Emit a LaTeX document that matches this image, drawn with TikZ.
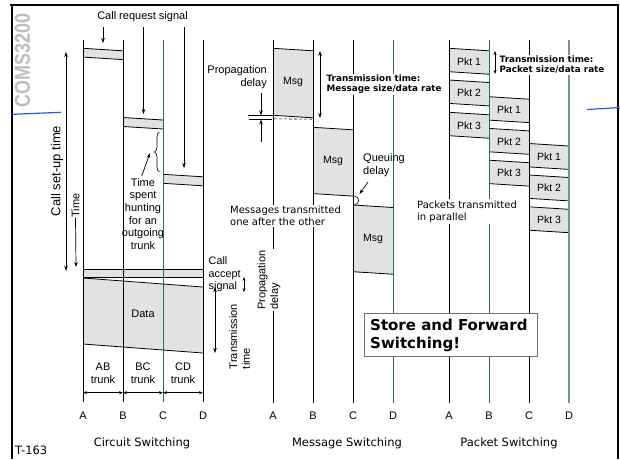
\documentclass[tikz,border=0pt]{standalone}
\usepackage{graphicx}
\usepackage{fontspec}
\setmainfont{Liberation Sans}
\newfontfamily\verd{DejaVu Sans}
\usetikzlibrary{arrows.meta,decorations.pathreplacing}
\definecolor{boxfill}{RGB}{226,226,226}
\definecolor{tealline}{RGB}{45,105,105}
\definecolor{tealthick}{RGB}{110,150,150}
\definecolor{logogray}{RGB}{190,190,190}
\definecolor{blueline}{RGB}{30,95,230}
\newcommand\slbox[3]{%
  \fill[boxfill] (#1,#2) -- ++(40,2.5) -- ++(0,#3) -- ++(-40,-2.5) -- cycle;
  \draw[tl] (#1,#2) -- ++(40,2.5);
  \draw[tl] (#1,#2+#3) -- ++(40,2.5);}
\begin{document}
\begin{tikzpicture}[x=1pt,y=-1pt,
  tl/.style={line width=0.8pt},
  arr/.style={line width=0.7pt,-{Stealth[length=5pt,width=3.5pt]}},
  darr/.style={line width=0.7pt,{Stealth[length=5pt,width=3.5pt]}-{Stealth[length=5pt,width=3.5pt]}},
  sarr/.style={line width=0.6pt,{Stealth[length=4pt,width=3pt]}-{Stealth[length=4pt,width=3pt]}},
  lab/.style={inner sep=0pt,font=\fontsize{11}{12.7}\selectfont},
  boxlab/.style={inner sep=0pt,font=\fontsize{10.5}{12}\selectfont},
  vlab/.style={inner sep=0pt,font=\verd\fontsize{10}{12}\selectfont},
  blab/.style={inner sep=0pt,font=\verd\fontsize{11.5}{13}\selectfont},
  tbold/.style={inner sep=1pt,fill=white,align=left,anchor=west,font=\verd\bfseries\fontsize{8.8}{10.5}\selectfont},
]
\useasboundingbox (0,0) rectangle (620,459);

% frame
\draw[line width=1.8pt] (10,5) -- (619,5);
\draw[line width=2.2pt] (12,4) -- (12,459);
\draw[line width=1.8pt] (618,4) -- (618,459);
\node[rotate=90,text=logogray,inner sep=0pt] (logo) at (22.5,60) {\resizebox{94pt}{15pt}{\bfseries COMS3200}};
\coordinate (bl1) at (13,114.3); \coordinate (bl2) at (61,112.3);
\draw[blueline,line width=1.2pt] (bl1) -- (bl2);
\coordinate (br1) at (587,109.5); \coordinate (br2) at (620,107.5);
\draw[blueline,line width=1.2pt] (br1) -- (br2);

% ---------------- circuit switching ----------------
\slbox{83}{48.3}{8.8}
\slbox{123}{117.5}{9}
\slbox{163}{174.3}{9}
\fill[boxfill] (83,269.3) rectangle (203,277.5);
\fill[boxfill] (83,278) -- (203,287) -- (203,353) -- (83,344) -- cycle;
\draw[tl] (83,269.3) -- (203,269.3);
\draw[tl] (83,277.5) -- (203,277.5);
\draw[tl] (83,278) -- (203,287);
\draw[tl] (83,344) -- (203,353);

\foreach \n/\x/\c in {cA/83/black,cB/123/black,cC/163/tealline,cD/203/black}{
  \coordinate (\n t) at (\x,40); \coordinate (\n b) at (\x,402);
  \draw[tl,draw=\c] (\n t) -- (\n b);
}
\node[lab] (crs) at (142.5,17) {Call request signal};
\coordinate (cr1a) at (103,27); \coordinate (cr1b) at (103,43);
\coordinate (cr2a) at (143.5,27); \coordinate (cr2b) at (143.5,114);
\coordinate (cr3a) at (184,27); \coordinate (cr3b) at (184,168);
\draw[arr] (cr1a) -- (cr1b);
\draw[arr] (cr2a) -- (cr2b);
\draw[arr] (cr3a) -- (cr3b);

\node[lab,rotate=90,font=\fontsize{13}{15}\selectfont] (cst) at (57,171) {Call set-up time};
\coordinate (cstT) at (66,52); \coordinate (cstB) at (66,271);
\draw[darr] (cstB) -- (cstT);
\node[lab,rotate=90,font=\fontsize{11}{12}\selectfont] (time) at (75.5,205.5) {Time};
\coordinate (timeB) at (76,267);
\draw[arr] (time.west) -- (timeB);

\coordinate (brA) at (159.5,172); \coordinate (brB) at (159.5,132);
\draw[line width=0.6pt,decorate,decoration={brace,amplitude=5pt}] (brA) -- (brB);
\node[lab,align=center] (tsh) at (143,214) {Time\\spent\\hunting\\for an\\outgoing\\trunk};
\coordinate (tsa) at (141.7,176); \coordinate (tsb) at (150,153);
\draw[arr] (tsa) -- (tsb);

\node[lab,align=left,anchor=west,font=\fontsize{10.8}{12.5}\selectfont] (cas) at (208.5,274.3) {Call\\accept\\signal};
\coordinate (ca1) at (244,277); \coordinate (ca2) at (244,292);
\draw[sarr] (ca1) -- (ca2);
\coordinate (ct1) at (215,287); \coordinate (ct2) at (215,353);
\draw[darr] (ct1) -- (ct2);
\node[lab,rotate=90,align=left] (tt) at (239.5,336.5) {Transmission\\time};
\node[lab] (data) at (143,313.3) {Data};

\node[lab,align=center] (ab) at (103,373) {AB\\trunk};
\node[lab,align=center] (bc) at (143,373) {BC\\trunk};
\node[lab,align=center] (cd) at (183,373) {CD\\trunk};
\coordinate (tA) at (83,392.7); \coordinate (tB) at (123,392.7);
\coordinate (tC) at (163,392.7); \coordinate (tD) at (203,392.7);
\draw[sarr] (tA) -- (tB);
\draw[sarr] (tB) -- (tC);
\draw[sarr] (tC) -- (tD);
\foreach \n/\x/\t in {lcA/83/A,lcB/123/B,lcC/163/C,lcD/203/D}{
  \node[lab] (\n) at (\x,416) {\t};
}
\node[blab] (circ) at (142,443) {Circuit Switching};
\node[blab,anchor=west] (tno) at (15,450.5) {T-163};

% ---------------- message switching ----------------
\slbox{273}{48.3}{67}
\slbox{313}{127.3}{66.3}
\slbox{353}{205}{66.7}
\foreach \n/\x/\c in {mA/273/black,mB/313/black,mC/353/black,mD/393/tealline}{
  \coordinate (\n t) at (\x,40); \coordinate (\n b) at (\x,403);
  \draw[tl,draw=\c] (\n t) -- (\n b);
}
\node[boxlab] (msg1) at (293,82) {Msg};
\node[boxlab] (msg2) at (333,161) {Msg};
\node[boxlab] (msg3) at (373,239) {Msg};

\node[lab,align=right,anchor=east] (pd) at (267,77) {Propagation\\delay};
\coordinate (pl1a) at (248,115.7); \coordinate (pl1b) at (273,115.7);
\coordinate (pl2a) at (249,119.3); \coordinate (pl2b) at (272,119.3);
\draw[line width=0.6pt] (pl1a) -- (pl1b);
\draw[line width=0.6pt] (pl2a) -- (pl2b);
\coordinate (pa1) at (261,93); \coordinate (pa2) at (261,115.5);
\coordinate (pa3) at (261,142); \coordinate (pa4) at (261,119.5);
\draw[arr] (pa1) -- (pa2);
\draw[arr] (pa3) -- (pa4);
\coordinate (dsa) at (274,118.8); \coordinate (dsb) at (312,119.2);
\draw[line width=0.6pt,dashed,dash pattern=on 3pt off 2pt] (dsa) -- (dsb);

\coordinate (mt1) at (320,51); \coordinate (mt2) at (320,118);
\draw[darr] (mt1) -- (mt2);
\node[tbold] (mtt) at (325.5,84.3) {Transmission time:\\Message size/data rate};

\coordinate (qa1) at (354.5,196); \coordinate (qa2) at (354.5,205);
\draw[line width=0.6pt] (qa1) .. controls (360,197) and (360,204) .. (qa2);
\node[lab,align=left,anchor=west] (qd) at (363,165) {Queuing\\delay};
\coordinate (qda) at (368,182); \coordinate (qdb) at (359.5,194);
\draw[arr] (qda) -- (qdb);

\node[vlab,align=left,anchor=west,fill=white,inner sep=1.5pt] (mtx) at (228.5,216) {Messages transmitted\\one after the other};
\node[lab,rotate=90,align=left,fill=white,inner sep=1pt] (pd2) at (269,280) {Propagation\\delay};
\node[blab] (msw) at (347,443) {Message Switching};
\foreach \n/\x/\t in {lmA/273/A,lmB/313/B,lmC/353/C,lmD/393/D}{
  \node[lab] (\n) at (\x,416) {\t};
}

% ---------------- packet switching ----------------
\foreach \t in {48.3,80,112.3}{ \slbox{449}{\t}{23.4} }
\foreach \t in {96.7,128.4,160.2}{ \slbox{489}{\t}{23.4} }
\foreach \t in {143.5,175,206.8}{ \slbox{529}{\t}{23.4} }
\foreach \n/\x/\c/\w in {pA/449/black/0.8pt,pB/489/tealline/0.8pt,pC/529/black/0.8pt,pD/569/tealthick/2pt}{
  \coordinate (\n t) at (\x,40); \coordinate (\n b) at (\x,403);
  \draw[line width=\w,draw=\c] (\n t) -- (\n b);
}
\node[boxlab] (p11) at (469,61.5) {Pkt 1};
\node[boxlab] (p12) at (469,93) {Pkt 2};
\node[boxlab] (p13) at (469,125.3) {Pkt 3};
\node[boxlab] (p21) at (509,109.7) {Pkt 1};
\node[boxlab] (p22) at (509,141.4) {Pkt 2};
\node[boxlab] (p23) at (509,173.2) {Pkt 3};
\node[boxlab] (p31) at (549,156.5) {Pkt 1};
\node[boxlab] (p32) at (549,188) {Pkt 2};
\node[boxlab] (p33) at (549,219.8) {Pkt 3};

\coordinate (pt1) at (495,51); \coordinate (pt2) at (495,74);
\draw[sarr] (pt1) -- (pt2);
\node[tbold] (ptt) at (498.5,64.7) {Transmission time:\\Packet size/data rate};
\node[vlab,align=left,anchor=west,fill=white,inner sep=1.5pt] (ptx) at (415.5,211.4) {Packets transmitted\\in parallel};
\node[blab] (psw) at (509,443) {Packet Switching};
\foreach \n/\x/\t in {lpA/449/A,lpB/489/B,lpC/529/C,lpD/569/D}{
  \node[lab] (\n) at (\x,416) {\t};
}

% ---------------- store and forward ----------------
\node[draw=black!55,line width=0.6pt,fill=white,minimum width=173pt,minimum height=43pt,inner sep=0pt] (sfbox) at (450.5,334.5) {};
\node[inner sep=0pt,align=left,anchor=west,font=\verd\bfseries\fontsize{15}{18}\selectfont] (sf) at (370,335) {Store and Forward\\Switching!};
\end{tikzpicture}
\end{document}
